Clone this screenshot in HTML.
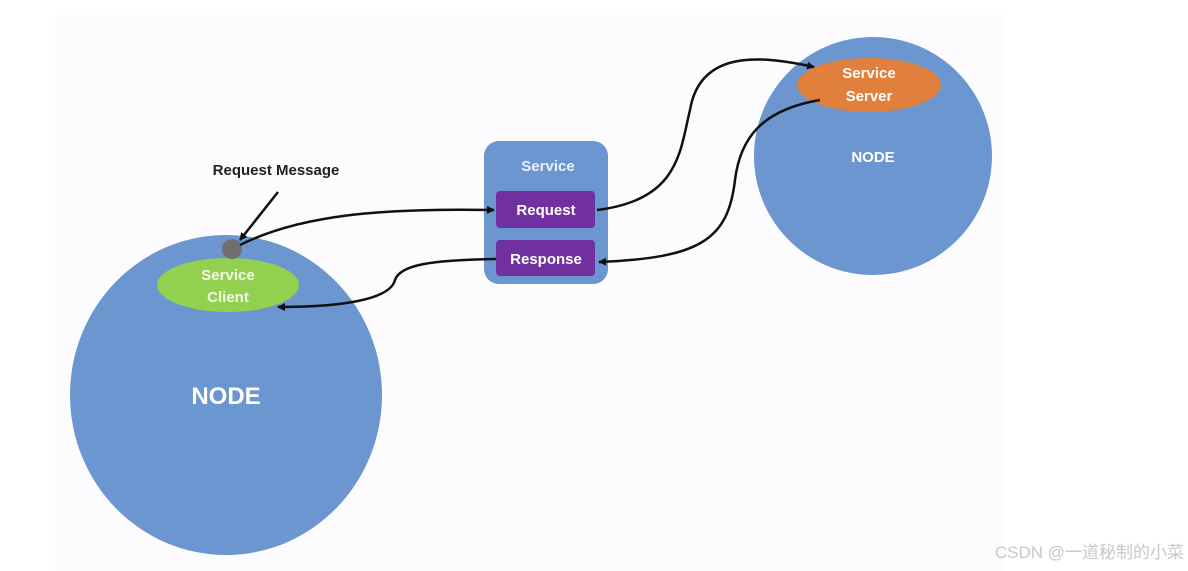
<!DOCTYPE html>
<html><head><style>
body{margin:0;background:#fff;}
svg{display:block;font-family:"Liberation Sans",sans-serif;}
</style></head><body>
<svg width="1188" height="571" viewBox="0 0 1188 571" xmlns="http://www.w3.org/2000/svg">
<defs><marker id="a" markerWidth="8" markerHeight="8" refX="7" refY="4" orient="auto" markerUnits="userSpaceOnUse"><path d="M0,0 L8,4 L0,8 Z" fill="#111"/></marker></defs>
<rect x="55" y="15" width="950" height="556" fill="#fcfcfe"/>
<ellipse cx="226" cy="395" rx="156" ry="160" fill="#6b96cf"/>
<ellipse cx="873" cy="156" rx="119" ry="119" fill="#6b96cf"/>
<rect x="484" y="141" width="124" height="143" rx="15" fill="#6b96cf"/>
<rect x="496" y="191" width="99" height="37" rx="4" fill="#7030a0"/>
<rect x="496" y="240" width="99" height="36" rx="4" fill="#7030a0"/>
<ellipse cx="228" cy="285" rx="71" ry="27" fill="#92d050"/>
<ellipse cx="869" cy="85" rx="72" ry="27" fill="#e0803c"/>
<circle cx="232" cy="249" r="10" fill="#6f6f6f"/>
<g fill="none" stroke="#111" stroke-width="2.5">
<path d="M240,245 C300,215 380,208 494,210" marker-end="url(#a)"/>
<path d="M496,259 C430,260 400,265 395,280 C390,300 340,307 278,307" marker-end="url(#a)"/>
<path d="M597,210 C680,200 680,150 690,110 C700,50 760,55 814,67" marker-end="url(#a)"/>
<path d="M820,100 C760,110 740,140 735,180 C728,240 700,258 599,262" marker-end="url(#a)"/>
<path d="M278,192 L240,240" marker-end="url(#a)"/>
</g>
<g font-weight="bold" text-anchor="middle" fill="#fff">
<text x="276" y="175" fill="#222" font-size="15">Request Message</text>
<text x="548" y="171" font-size="15" fill="#eef">Service</text>
<text x="546" y="215" font-size="15">Request</text>
<text x="546" y="264" font-size="15">Response</text>
<text x="228" y="280" font-size="15" fill="#f3f8ea">Service</text>
<text x="228" y="302" font-size="15" fill="#f3f8ea">Client</text>
<text x="869" y="78" font-size="15">Service</text>
<text x="869" y="101" font-size="15">Server</text>
<text x="873" y="162" font-size="15">NODE</text>
<text x="226" y="404" font-size="24">NODE</text>
</g>
<text x="1184" y="558" text-anchor="end" font-size="17" fill="#c8c8cc" font-family="'Liberation Sans','Noto Sans CJK SC',sans-serif">CSDN @一道秘制的小菜</text>
</svg>
</body></html>
